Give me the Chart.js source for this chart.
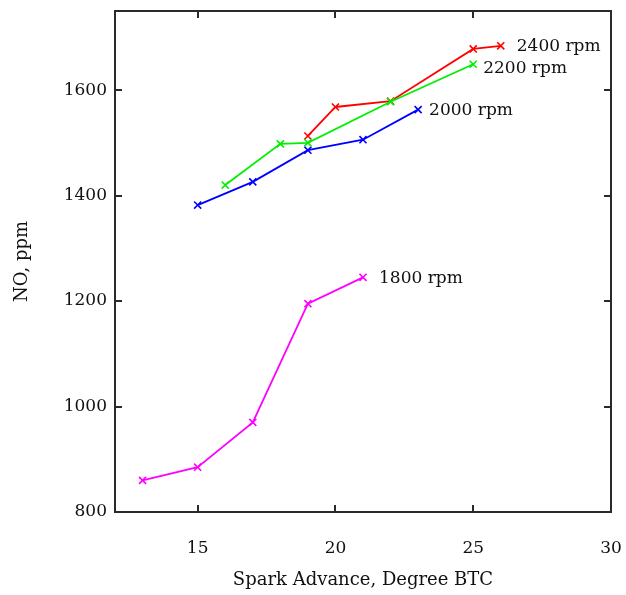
<!DOCTYPE html>
<html>
<head>
<meta charset="utf-8">
<style>
  html, body { margin: 0; padding: 0; background: #fff; }
  #wrap { width: 626px; height: 595px; }
</style>
<script src="https://cdn.jsdelivr.net/npm/chart.js@4/dist/chart.umd.min.js"></script>
</head>
<body>
<div id="wrap"><canvas id="c" width="626" height="595"></canvas></div>
<script>
// Spark advance (degree BTC) and NO concentration (ppm) per engine speed
const speedLabels = ['1800 rpm', '2000 rpm', '2200 rpm', '2400 rpm'];
const adv1800 = [13, 15, 17, 19, 21];
const no1800  = [860, 885, 970, 1195, 1245];
const adv2000 = [15, 17, 19, 21, 23];
const no2000  = [1382, 1426, 1486, 1506, 1563];
const adv2200 = [16, 18, 19, 22, 25];
const no2200  = [1420, 1498, 1500, 1578, 1649];
const adv2400 = [19, 20, 22, 25, 26];
const no2400  = [1513, 1568, 1579, 1678, 1684];

const xTicks = [15, 20, 25, 30];
const yTicks = [800, 1000, 1200, 1400, 1600];

const pairs = (xs, ys) => xs.map((x, i) => ({ x: x, y: ys[i] }));

const FONT = "'DejaVu Serif', 'Liberation Serif', serif";

function series(label, xs, ys, color, labelDx, labelDy) {
  return {
    label: label,
    data: pairs(xs, ys),
    borderColor: color,
    backgroundColor: color,
    borderWidth: 1.8,
    pointStyle: 'crossRot',
    pointRadius: 5,
    pointBorderWidth: 1.6,
    pointHoverRadius: 5,
    tension: 0,
    fill: false,
    endLabelDx: labelDx,
    endLabelDy: labelDy
  };
}

// Frame with inward tick marks on all four sides, plus the rpm labels
const framePlugin = {
  id: 'frame',
  afterDatasetsDraw(chart) {
    const ctx = chart.ctx;
    const a = chart.chartArea;
    const xs = chart.scales.x, ys = chart.scales.y;
    const len = 7;
    ctx.save();
    ctx.strokeStyle = '#2a2a2a';
    ctx.lineWidth = 2;
    ctx.beginPath();
    xTicks.forEach(v => {
      const px = Math.round(xs.getPixelForValue(v));
      ctx.moveTo(px, a.bottom); ctx.lineTo(px, a.bottom - len);
      ctx.moveTo(px, a.top); ctx.lineTo(px, a.top + len);
    });
    yTicks.forEach(v => {
      const py = Math.round(ys.getPixelForValue(v));
      ctx.moveTo(a.left, py); ctx.lineTo(a.left + len, py);
      ctx.moveTo(a.right, py); ctx.lineTo(a.right - len, py);
    });
    ctx.stroke();
    ctx.strokeRect(a.left, a.top, a.right - a.left, a.bottom - a.top);

    // rpm labels next to the last point of each curve
    ctx.fillStyle = '#111';
    ctx.font = "17px " + FONT;
    ctx.textAlign = 'left';
    ctx.textBaseline = 'middle';
    chart.data.datasets.forEach(ds => {
      const last = ds.data[ds.data.length - 1];
      const px = xs.getPixelForValue(last.x) + ds.endLabelDx;
      const py = ys.getPixelForValue(last.y) + ds.endLabelDy;
      ctx.fillText(ds.label, px, py);
    });
    ctx.restore();
  }
};

new Chart(document.getElementById('c'), {
  type: 'line',
  data: {
    datasets: [
      series(speedLabels[2], adv2200, no2200, '#00ee00', 10, 4),
      series(speedLabels[3], adv2400, no2400, '#ff0000', 16, 1),
      series(speedLabels[1], adv2000, no2000, '#0000ff', 11, 1),
      series(speedLabels[0], adv1800, no1800, '#ff00ff', 16, 1)
    ]
  },
  options: {
    responsive: false,
    animation: false,
    devicePixelRatio: 1,
    layout: { padding: { left: 0, top: 11, right: 15, bottom: 0 } },
    plugins: {
      legend: { display: false },
      tooltip: { enabled: false }
    },
    scales: {
      x: {
        type: 'linear',
        min: 12,
        max: 30,
        afterBuildTicks(s) { s.ticks = xTicks.map(v => ({ value: v })); },
        afterFit(s) { s.height = 83; s.paddingLeft = 0; s.paddingRight = 0; },
        grid: { display: false, drawTicks: false },
        border: { display: false },
        ticks: {
          color: '#111',
          padding: 26,
          maxRotation: 0,
          callback: v => String(v),
          font: { family: FONT, size: 17 }
        },
        title: {
          display: true,
          text: 'Spark Advance, Degree BTC',
          color: '#111',
          font: { family: FONT, size: 18 },
          padding: { top: 0, bottom: 4 }
        }
      },
      y: {
        type: 'linear',
        min: 800,
        max: 1750,
        afterBuildTicks(s) { s.ticks = yTicks.map(v => ({ value: v })); },
        afterFit(s) { s.width = 115; s.paddingTop = 0; s.paddingBottom = 0; },
        grid: { display: false, drawTicks: false },
        border: { display: false },
        ticks: {
          color: '#111',
          padding: 8,
          callback: v => String(v),
          font: { family: FONT, size: 17 }
        },
        title: {
          display: true,
          text: 'NO, ppm',
          color: '#111',
          font: { family: FONT, size: 18 },
          padding: { top: 12, bottom: 0 }
        }
      }
    }
  },
  plugins: [framePlugin]
});
</script>
</body>
</html>
